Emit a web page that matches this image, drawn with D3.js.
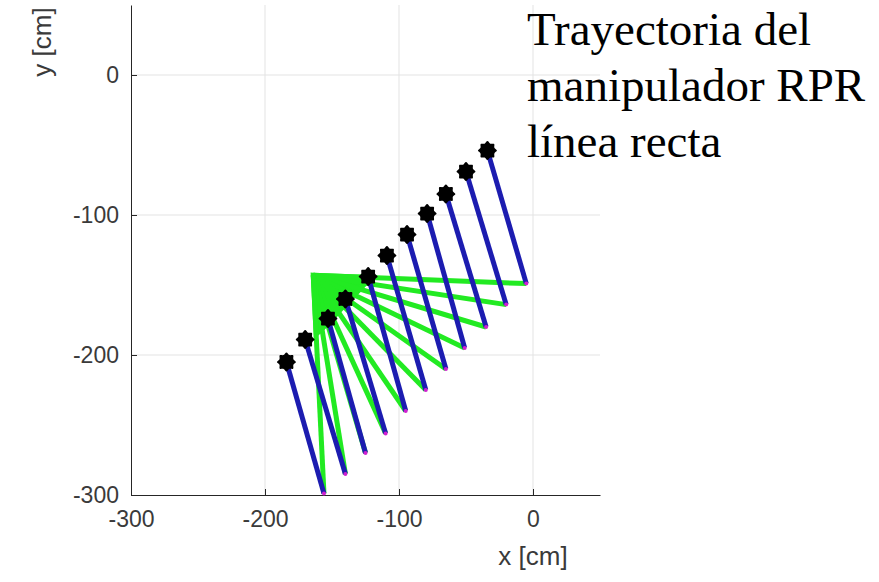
<!DOCTYPE html>
<html>
<head>
<meta charset="utf-8">
<script src="https://cdn.jsdelivr.net/npm/d3@7"></script>
<style>
  body { margin: 0; background: #fff; }
  svg { display: block; }
</style>
</head>
<body>
<div id="chart"></div>
<script>
var svgWidth = 879;
var svgHeight = 582;

// base of the manipulator (revolute joint)
var baseX = -164;
var baseY = -143;

// end of the green (prismatic) link = start of the blue link
var elbowX = [-5, -20, -35, -51, -65, -80, -95, -110, -125, -140, -156];
var elbowY = [-149, -164, -180, -195, -210, -225, -240, -256, -270, -285, -299];

// end effector positions (black markers on the straight line)
var tipX = [-34, -50, -65, -79, -94, -109, -123, -140, -153, -170, -184];
var tipY = [-54, -69, -85, -99, -114, -129, -144, -160, -174, -189, -205];

var xTicks = [-300, -200, -100, 0];
var yTicks = [-300, -200, -100, 0];
var titleLines = ["Trayectoria del", "manipulador RPR", "línea recta"];

var poses = tipX.map(function (d, i) {
    return { ex: elbowX[i], ey: elbowY[i], tx: tipX[i], ty: tipY[i] };
});

var svg = d3.select("#chart")
    .append("svg")
    .attr("width", svgWidth)
    .attr("height", svgHeight);

var x = d3.scaleLinear().domain([-300, 50]).range([131, 600]);
var y = d3.scaleLinear().domain([-300, 50]).range([495, 5]);

// grid
svg.append("g")
    .selectAll("line")
    .data(xTicks.slice(1))
    .enter()
    .append("line")
    .attr("x1", d => x(d)).attr("x2", d => x(d))
    .attr("y1", y(-300)).attr("y2", y(50))
    .attr("stroke", "#e3e3e3")
    .attr("stroke-width", 1);

svg.append("g")
    .selectAll("line")
    .data(yTicks.slice(1))
    .enter()
    .append("line")
    .attr("y1", d => y(d)).attr("y2", d => y(d))
    .attr("x1", x(-300)).attr("x2", x(50))
    .attr("stroke", "#e3e3e3")
    .attr("stroke-width", 1);

// axes (ticks inside, like matlab)
var xAxis = svg.append("g")
    .attr("transform", `translate(0, ${y(-300)})`)
    .call(d3.axisBottom(x).tickValues(xTicks).tickFormat(d => String(d))
        .tickSizeInner(-6).tickSizeOuter(0).tickPadding(16));

var yAxis = svg.append("g")
    .attr("transform", `translate(${x(-300)}, 0)`)
    .call(d3.axisLeft(y).tickValues(yTicks).tickFormat(d => String(d))
        .tickSizeInner(-6).tickSizeOuter(0).tickPadding(12));

[xAxis, yAxis].forEach(function (a) {
    a.select(".domain").attr("stroke", "#262626");
    a.selectAll(".tick line").attr("stroke", "#262626");
    a.selectAll(".tick text")
        .attr("fill", "#3a3a3a")
        .attr("font-family", "Liberation Sans, Arial, sans-serif")
        .attr("font-size", "23px");
});
xAxis.selectAll(".tick text").attr("dy", "0.71em");

svg.append("text")
    .attr("x", x(0))
    .attr("y", 565)
    .attr("text-anchor", "middle")
    .attr("font-family", "Liberation Sans, Arial, sans-serif")
    .attr("font-size", "26px")
    .attr("fill", "#3a3a3a")
    .text("x [cm]");

svg.append("text")
    .attr("transform", "translate(51, 42) rotate(-90)")
    .attr("text-anchor", "middle")
    .attr("font-family", "Liberation Sans, Arial, sans-serif")
    .attr("font-size", "26px")
    .attr("fill", "#3a3a3a")
    .text("y [cm]");

// solid green wedge where the links overlap near the base
var wedgeFrac = 0.27;
var wedge = [[x(baseX), y(baseY)]].concat(poses.map(function (d) {
    return [x(baseX + (d.ex - baseX) * wedgeFrac), y(baseY + (d.ey - baseY) * wedgeFrac)];
}));
svg.append("path")
    .attr("d", "M" + wedge.join("L") + "Z")
    .attr("fill", "#22ea22")
    .attr("stroke", "#22ea22")
    .attr("stroke-width", 5)
    .attr("stroke-linejoin", "miter");

// green links
svg.append("g")
    .selectAll("line")
    .data(poses)
    .enter()
    .append("line")
    .attr("x1", x(baseX)).attr("y1", y(baseY))
    .attr("x2", d => x(d.ex)).attr("y2", d => y(d.ey))
    .attr("stroke", "#22ea22")
    .attr("stroke-width", 5);

// blue links
svg.append("g")
    .selectAll("line")
    .data(poses)
    .enter()
    .append("line")
    .attr("x1", d => x(d.ex)).attr("y1", d => y(d.ey))
    .attr("x2", d => x(d.tx)).attr("y2", d => y(d.ty))
    .attr("stroke", "#1c1cb0")
    .attr("stroke-width", 5);

svg.append("g")
    .selectAll("circle")
    .data(poses)
    .enter()
    .append("circle")
    .attr("cx", d => x(d.ex)).attr("cy", d => y(d.ey))
    .attr("r", 2)
    .attr("fill", "#d020d0");

// end effector markers
var bump = d3.lineRadial()
    .angle(d => d[0])
    .radius(d => d[1])
    .curve(d3.curveCardinalClosed);
var bumpPts = d3.range(16).map(i => [i * Math.PI / 8, i % 2 ? 7.5 : 9.5]);

svg.append("g")
    .selectAll("path")
    .data(poses)
    .enter()
    .append("path")
    .attr("transform", d => `translate(${x(d.tx)}, ${y(d.ty)})`)
    .attr("d", bump(bumpPts))
    .attr("fill", "#000");

// title text over the plot
svg.append("text")
    .attr("font-family", "Liberation Serif, Times New Roman, serif")
    .attr("font-size", "47px")
    .attr("fill", "#000")
    .selectAll("tspan")
    .data(titleLines)
    .enter()
    .append("tspan")
    .attr("x", 527)
    .attr("y", (d, i) => 45 + i * 56)
    .text(d => d);
</script>
</body>
</html>
